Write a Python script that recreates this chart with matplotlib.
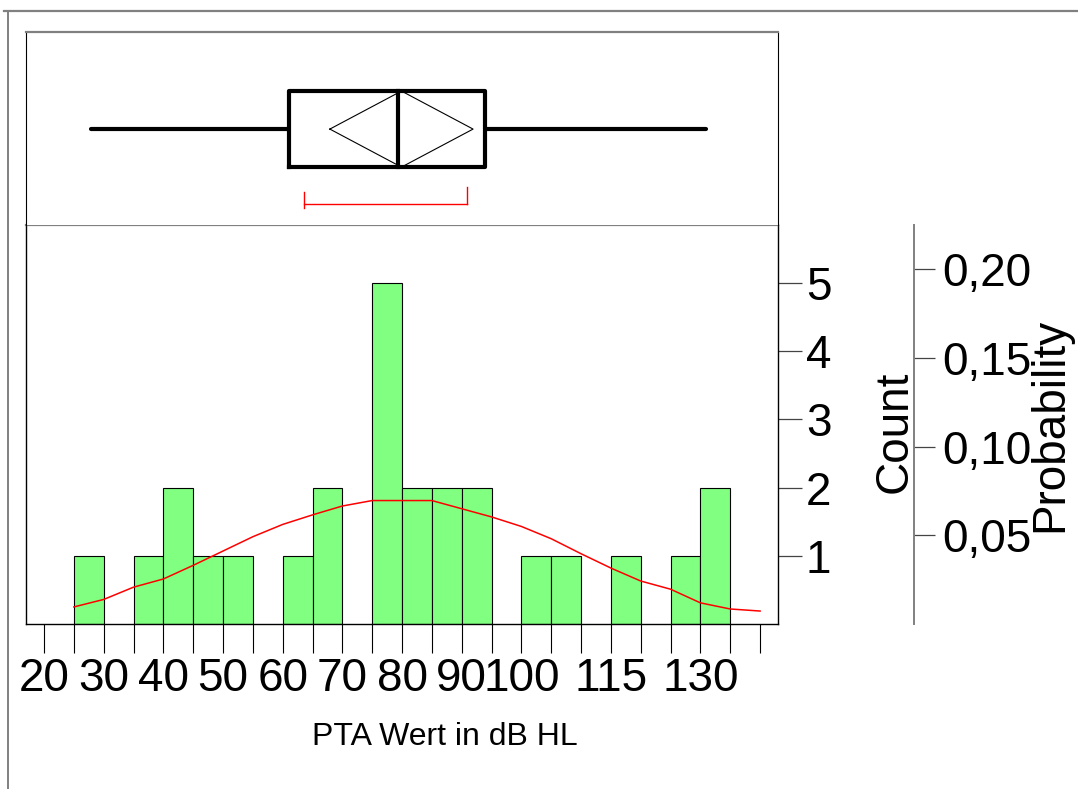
import numpy as np
import matplotlib
matplotlib.use("Agg")
import matplotlib.pyplot as plt
from matplotlib.lines import Line2D

plt.rcParams['font.family'] = ['Liberation Sans', 'DejaVu Sans']

# histogram: left bin edges (5 dB bins) and counts
bin_left = [25, 35, 40, 45, 50, 60, 65, 75, 80, 85, 90, 100, 105, 115, 125, 130]
counts   = [1, 1, 2, 1, 1, 1, 2, 5, 2, 2, 2, 1, 1, 1, 1, 2]
BIN_W    = 5
N        = sum(counts)

# fitted normal curve (in count units)
curve_x = [25, 30, 35, 40, 45, 50, 55, 60, 65, 70, 75, 80, 85, 90, 95, 100,
           105, 110, 115, 120, 125, 130, 135, 140]
curve_y = [0.25, 0.36, 0.54, 0.66, 0.86, 1.07, 1.28, 1.46, 1.60, 1.73, 1.81, 1.81,
           1.81, 1.69, 1.57, 1.43, 1.25, 1.03, 0.82, 0.63, 0.51, 0.31, 0.22, 0.19]

# box plot summary
q_min, q1, median, q3, q_max = 27.8, 61.1, 79.4, 93.9, 131.0
mean, ci_low, ci_high = 79.9, 67.9, 91.9
short_half = (63.6, 90.9)

x_ticks       = list(range(20, 145, 5))
x_label_ticks = [20, 30, 40, 50, 60, 70, 80, 90, 100, 115, 130]
count_ticks   = [1, 2, 3, 4, 5]
prob_ticks    = [0.05, 0.10, 0.15, 0.20]
prob_labels   = ["0,05", "0,10", "0,15", "0,20"]

W, H = 1078, 789
fig = plt.figure(figsize=(W / 100, H / 100), dpi=100)

def fx(px):
    return px / W

def fy(py):
    return 1 - py / H

GRAY = "#808080"
FS = 33

# outer frame lines
fig.add_artist(Line2D([fx(4), 1], [fy(11), fy(11)], color=GRAY, lw=1.6))
fig.add_artist(Line2D([fx(8), fx(8)], [fy(11), 0], color=GRAY, lw=1.4))

# ── histogram panel ──────────────────────────────
ax = fig.add_axes([fx(26), fy(624), fx(778) - fx(26), fy(225) - fy(624)])
ax2 = ax.twinx()

ax.bar(bin_left, counts, width=BIN_W, align="edge", color="#80FF80",
       edgecolor="black", linewidth=0.8, zorder=2)
ax.plot(curve_x, curve_y, color="red", lw=1.1, zorder=3)

ax.set_xlim(16.98, 143.0)
ax.set_ylim(0, 5.85)
ax.set_xticks(x_ticks)
ax.set_xticklabels([str(t) if t in x_label_ticks else "" for t in x_ticks])
ax.tick_params(axis="x", direction="out", length=21, width=0.8,
               color="black", pad=3, labelsize=FS)
ax.set_yticks(count_ticks)
ax.set_yticklabels([str(c) for c in count_ticks])
ax.tick_params(axis="y", left=False, labelleft=False, right=True,
               labelright=True, direction="out", length=17, width=0.9,
               color="#444444", pad=3, labelsize=FS)
for s in ["left", "right", "bottom"]:
    ax.spines[s].set_color("black")
    ax.spines[s].set_linewidth(1.0)
ax.spines["top"].set_color(GRAY)
ax.spines["top"].set_linewidth(1.6)

# probability axis
ax2.set_ylim(0, 5.85 / N)
ax2.set_yticks(prob_ticks)
ax2.set_yticklabels(prob_labels)
ax2.spines["right"].set_position(("axes", (914 - 26) / 752))
for s in ["left", "top", "bottom"]:
    ax2.spines[s].set_visible(False)
ax2.spines["right"].set_color(GRAY)
ax2.spines["right"].set_linewidth(1.4)
ax2.tick_params(axis="y", direction="out", length=15, width=0.9,
                color="#444444", pad=5, labelsize=FS)

fig.text(fx(895), fy(432), "Count", rotation=90, ha="center", va="center",
         fontsize=FS)
fig.text(fx(1050), fy(425), "Probability", rotation=90, ha="center",
         va="center", fontsize=FS)
fig.text(fx(445), fy(737), "PTA Wert in dB HL", ha="center", va="center",
         fontsize=23)

# ── box plot panel ──────────────────────────────
bx = fig.add_axes([fx(26), fy(225), fx(778) - fx(26), fy(32) - fy(225)])
bx.set_xlim(16.98, 143.0)
bx.set_ylim(0, 1)
bx.set_xticks([])
bx.set_yticks([])
bx.spines["top"].set_color(GRAY)
bx.spines["top"].set_linewidth(1.6)
bx.spines["bottom"].set_visible(False)
bx.spines["left"].set_color("black")
bx.spines["right"].set_color("black")

b_lo, b_hi, b_mid = 0.30, 0.694, 0.497
lw_box = 3.0
bx.plot([q_min, q1], [b_mid, b_mid], color="black", lw=lw_box,
        solid_capstyle="round")
bx.plot([q3, q_max], [b_mid, b_mid], color="black", lw=lw_box,
        solid_capstyle="round")
bx.plot([q1, q3, q3, q1, q1], [b_lo, b_lo, b_hi, b_hi, b_lo], color="black",
        lw=lw_box)
bx.plot([median, median], [b_lo, b_hi], color="black", lw=lw_box)
bx.plot([ci_low, mean, ci_high, mean, ci_low],
        [b_mid, b_hi, b_mid, b_lo, b_mid], color="black", lw=0.8)

br_y = 0.109
bx.plot([short_half[0], short_half[1]], [br_y, br_y], color="red", lw=1.0)
bx.plot([short_half[0], short_half[0]], [0.088, 0.171], color="red", lw=1.0)
bx.plot([short_half[1], short_half[1]], [0.109, 0.197], color="red", lw=1.0)

fig.savefig("out.png", dpi=100)
